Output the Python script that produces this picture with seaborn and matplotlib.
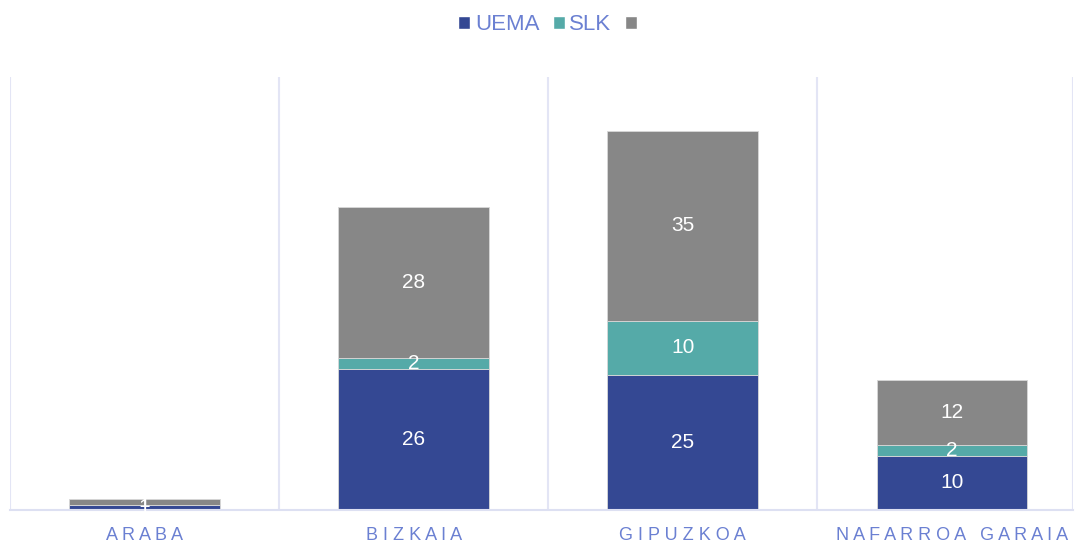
import matplotlib
matplotlib.use("Agg")
import matplotlib.pyplot as plt
import seaborn as sns
import numpy as np
from matplotlib.patches import Patch

categories = ["ARABA", "BIZKAIA", "GIPUZKOA", "NAFARROA GARAIA"]
uema = [1, 26, 25, 10]
slk = [0, 2, 10, 2]
other = [1, 28, 35, 12]
series_names = ["UEMA", "SLK", ""]
colors = ["#344893", "#55aaa8", "#878787"]

sns.set_theme(style="white")
plt.rcParams['font.family'] = ['Liberation Sans', 'DejaVu Sans']

fig = plt.figure(figsize=(10.76, 5.43), dpi=100)
ax = fig.add_axes([10/1076, 1 - 510/543, (1073-10)/1076, (510-77)/543])

def spaced(s):
    return "   ".join(" ".join(w) for w in s.split(" "))

xlabels = [spaced(c) for c in categories]

bottom = np.zeros(len(categories))
for vals, name, col in zip([uema, slk, other], series_names, colors):
    sns.barplot(x=xlabels, y=vals, bottom=bottom.copy(), color=col, saturation=1,
                width=0.56, ax=ax, edgecolor="#d8d8d8", linewidth=0.6)
    cont = ax.containers[-1]
    ax.bar_label(cont, labels=[str(v) if v else "" for v in vals], label_type="center",
                 color="white", fontsize=15)
    bottom += np.array(vals)

ax.set_ylim(0, 80)
ax.set_xlim(-0.5, 3.45)
ax.set_yticks([])
for s in ["top", "right", "left"]:
    ax.spines[s].set_visible(False)
ax.spines["bottom"].set_color("#dde0f2")
ax.spines["bottom"].set_linewidth(1.5)
for xv in [-0.5, 0.5, 1.5, 2.5, 3.45]:
    ax.axvline(xv, color="#e3e5f5", lw=1.5, zorder=0)
ax.tick_params(axis="x", length=0, colors="#6b80d2", labelsize=13, pad=12)
ax.set_xlabel("")
ax.set_ylabel("")

handles = [Patch(facecolor=c) for c in colors]
leg = fig.legend(handles, series_names, loc="center", bbox_to_anchor=(0.511, 1 - 25/543),
                 ncol=3, frameon=False, fontsize=16, handlelength=0.55, handleheight=0.55,
                 handletextpad=0.2, columnspacing=0.6, labelcolor="#6b80d2")

fig.savefig("out.png", dpi=100)
